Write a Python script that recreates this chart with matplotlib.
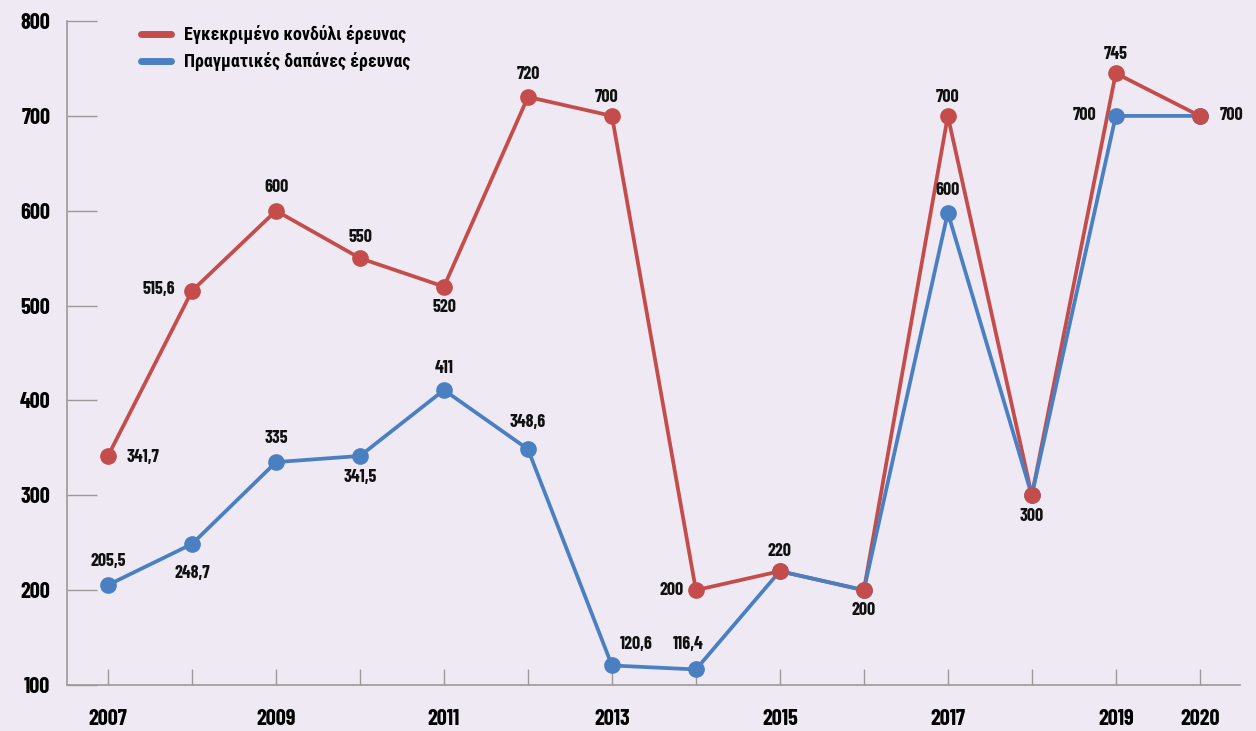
import matplotlib.pyplot as plt
from matplotlib import font_manager

years = list(range(2007, 2021))
approved = [341.7, 515.6, 600, 550, 520, 720, 700, 200, 220, 200, 700, 300, 745, 700]
actual = [205.5, 248.7, 335, 341.5, 411, 348.6, 120.6, 116.4, 220, 200, 598, 300, 700, 700]
approved_labels = ["341,7", "515,6", "600", "550", "520", "720", "700", "200", "220", "200", "700", "300", "745", "700"]
actual_labels = ["205,5", "248,7", "335", "341,5", "411", "348,6", "120,6", "116,4", "", "", "600", "", "700", ""]
shown_years = [2007, 2009, 2011, 2013, 2015, 2017, 2019, 2020]
yticks = [100, 200, 300, 400, 500, 600, 700, 800]

names = {f.name for f in font_manager.fontManager.ttflist}
num_fam = [f for f in ["Barlow Condensed", "DejaVu Sans Condensed"] if f in names] + ["DejaVu Sans"]
greek_fam = [f for f in ["Roboto Condensed", "Fira Sans Condensed", "Open Sans Condensed", "Noto Sans",
                         "DejaVu Sans Condensed"] if f in names] + ["DejaVu Sans"]
plt.rcParams["font.family"] = num_fam
plt.rcParams["font.weight"] = "bold"

RED = "#c44d4b"
BLUE = "#4a80c2"
BG = "#efe9f3"
GREY = "#9a9a9a"

fig = plt.figure(figsize=(12.56, 7.31), dpi=100, facecolor=BG)
ax = fig.add_axes([0.0533, 0.0629, 0.934, 0.9083], facecolor=BG)

ax.plot(years, approved, color=RED, lw=2.7, zorder=2, label="Εγκεκριμένο κονδύλι έρευνας")
ax.plot(years, actual, color=BLUE, lw=2.7, marker="o", ms=11, zorder=3, label="Πραγματικές δαπάνες έρευνας")
ax.plot(years, approved, color=RED, lw=0, marker="o", ms=11, zorder=4)

# label offsets in pixels (dx, dy), converted to points
red_off = [(35, -2), (-33, 1), (0, 23), (0, 21), (0, -21), (0, 22), (-5, 18), (-24, 0), (0, 20), (0, -20),
           (0, 18), (0, -21), (0, 19), (32, 0)]
blue_off = [(0, 23), (0, -30), (0, 24), (0, -22), (0, 22), (0, 27), (24, 21), (-8, 25), (0, 0), (0, 0),
            (0, 22), (0, 0), (-31, 0), (0, 0)]

for x, y, t, (dx, dy) in zip(years, approved, approved_labels, red_off):
    ax.annotate(t, (x, y), xytext=(dx * 0.72, dy * 0.72), textcoords="offset points",
                ha="center", va="center", fontsize=13, fontweight="bold", color="#111111", zorder=5)
for x, y, t, (dx, dy) in zip(years, actual, actual_labels, blue_off):
    if t:
        ax.annotate(t, (x, y), xytext=(dx * 0.72, dy * 0.72), textcoords="offset points",
                    ha="center", va="center", fontsize=13, fontweight="bold", color="#111111", zorder=5)

ax.set_xlim(2006.51, 2020.48)
ax.set_ylim(100, 800)
ax.set_yticks(yticks)
ax.set_xticks(years)
ax.set_xticklabels([str(y) if y in shown_years else "" for y in years])

ax.tick_params(axis="y", direction="in", length=21.5, width=1, color=GREY, pad=12, labelsize=16)
ax.tick_params(axis="x", direction="in", length=11.5, width=1, color=GREY, pad=17, labelsize=16)
for s in ["top", "right"]:
    ax.spines[s].set_visible(False)
for s in ["left", "bottom"]:
    ax.spines[s].set_color(GREY)
    ax.spines[s].set_linewidth(1.2)
ax.spines["left"].set_bounds(100, 800)

leg = ax.legend(loc="upper left", bbox_to_anchor=(0.049, 1.018), frameon=False,
                prop={"family": greek_fam, "weight": "bold", "size": 13},
                handlelength=1.7, handletextpad=0.7, labelspacing=0.45)
for h in leg.legend_handles:
    h.set_linewidth(5)
    h.set_marker("")
    h.set_solid_capstyle("round")

fig.savefig("out.png", dpi=100, facecolor=BG)
